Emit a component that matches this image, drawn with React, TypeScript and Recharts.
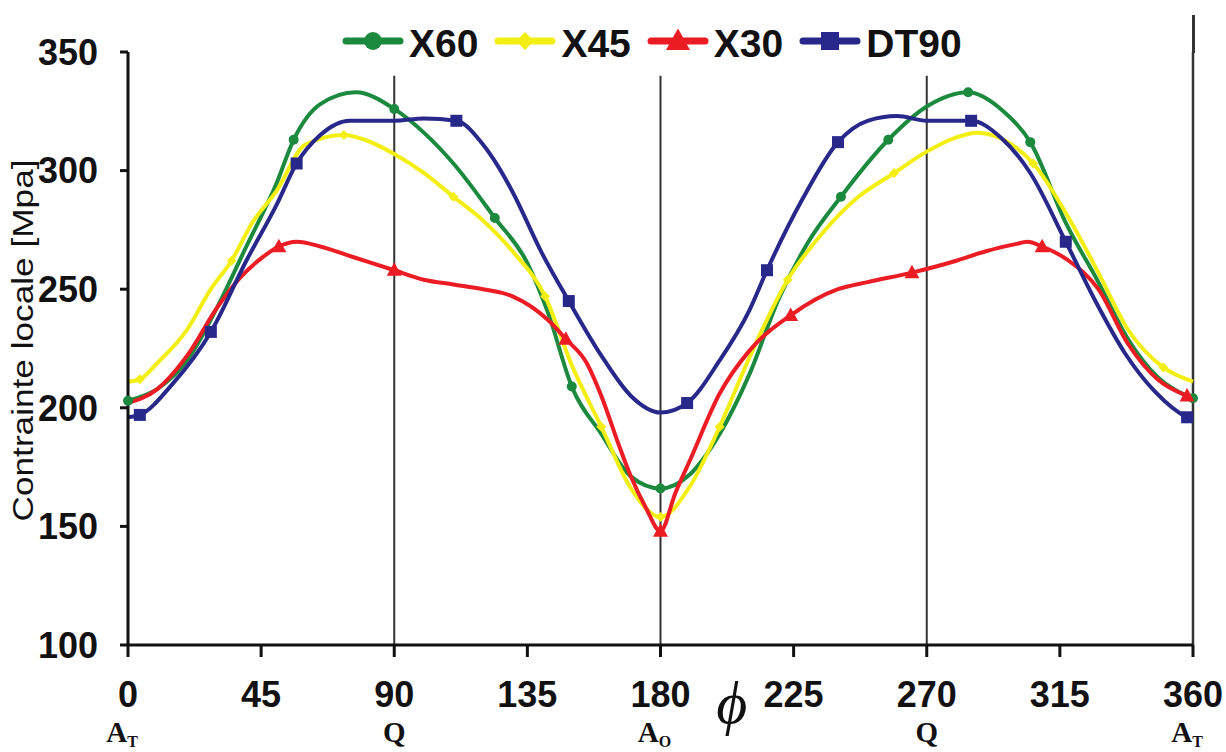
import React from "react";
import { LineChart, Line, XAxis, YAxis, ReferenceLine, Legend } from "recharts";

// angle phi (deg) around the joint and local stress (MPa)
const PHI_TICKS = [0, 45, 90, 135, 180, 225, 270, 315, 360];
const STRESS_TICKS = [100, 150, 200, 250, 300, 350];
const GUIDE_ANGLES = [90, 180, 270];
const POSITION_LABELS: Record<number, [string, string]> = {
  0: ["A", "T"],
  90: ["Q", ""],
  180: ["A", "O"],
  270: ["Q", ""],
  360: ["A", "T"],
};

const X60_VALUES: [number, number][] = [
  [0, 203], [10, 208], [20, 220], [30, 242], [40, 268], [50, 294], [56, 313],
  [65, 328], [77, 333], [90, 326], [100, 316], [110, 303], [124, 280], [135, 261],
  [142, 240], [150, 209], [160, 189], [170, 171], [180, 166], [190, 172], [200, 189],
  [210, 214], [220, 246], [230, 270], [241, 289], [257, 313], [270, 327], [284, 333],
  [295, 326], [305, 312], [317, 278], [328, 253], [338, 229], [348, 213], [360, 204],
];
const X60_MARKERS = [0, 56, 90, 124, 150, 180, 241, 257, 284, 305, 360];

const X45_VALUES: [number, number][] = [
  [0, 211], [4, 212], [10, 219], [20, 233], [28, 250], [35, 262], [42, 278],
  [50, 291], [60, 311], [73, 315], [80, 313], [90, 307], [100, 299], [110, 289],
  [120, 279], [130, 266], [141, 247], [150, 218], [160, 192], [170, 166], [180, 154],
  [190, 167], [200, 192], [210, 221], [223, 254], [235, 274], [246, 288], [259, 299],
  [270, 308], [280, 314], [287, 316], [296, 313], [306, 303], [318, 280], [328, 257],
  [338, 233], [350, 217], [360, 211],
];
const X45_MARKERS = [4, 35, 73, 110, 141, 160, 180, 200, 223, 259, 306, 350];

const X30_VALUES: [number, number][] = [
  [0, 202], [10, 208], [20, 222], [30, 242], [38, 255], [45, 263], [51, 268],
  [57, 270], [65, 268], [75, 264], [90, 258], [100, 254], [110, 252], [120, 250],
  [130, 247], [142, 237], [148, 229], [155, 219], [160, 205], [166, 184], [170, 171],
  [175, 158], [180, 148], [185, 164], [190, 178], [200, 206], [210, 224], [224, 239],
  [240, 250], [250, 253], [265, 257], [280, 262], [290, 266], [300, 269], [304, 270],
  [309, 268], [318, 262], [328, 250], [338, 227], [348, 212], [358, 205], [360, 204],
];
const X30_MARKERS = [51, 90, 148, 180, 224, 265, 309, 358];

const DT90_VALUES: [number, number][] = [
  [0, 196], [4, 197], [15, 210], [28, 232], [40, 262], [50, 285], [57, 303],
  [65, 315], [75, 321], [90, 321], [100, 322], [111, 321], [120, 311], [125, 302],
  [130, 291], [140, 265], [149, 245], [160, 222], [170, 205], [180, 198], [189, 202],
  [200, 220], [210, 241], [216, 258], [228, 288], [240, 312], [250, 321], [260, 323],
  [270, 321], [285, 321], [295, 314], [305, 299], [317, 270], [327, 245], [337, 223],
  [347, 207], [358, 196], [360, 195],
];
const DT90_MARKERS = [4, 28, 57, 111, 149, 189, 216, 240, 285, 317, 358];

const FONT = "'Liberation Sans', Arial, sans-serif";
const SERIF = "'Liberation Serif', 'Times New Roman', serif";

type Shape = "circle" | "diamond" | "triangle" | "square";

const toPoints = (rows: [number, number][]) => rows.map(([phi, v]) => ({ phi, v }));

const SERIES = [
  { name: "X60", color: "#1b8a3e", shape: "circle" as Shape, data: toPoints(X60_VALUES), markers: X60_MARKERS, size: 10 },
  { name: "X45", color: "#f3ee14", shape: "diamond" as Shape, data: toPoints(X45_VALUES), markers: X45_MARKERS, size: 10 },
  { name: "X30", color: "#ec1c24", shape: "triangle" as Shape, data: toPoints(X30_VALUES), markers: X30_MARKERS, size: 15 },
  { name: "DT90", color: "#27288a", shape: "square" as Shape, data: toPoints(DT90_VALUES), markers: DT90_MARKERS, size: 12 },
];

function Marker({ shape, cx, cy, size, color }: { shape: Shape; cx: number; cy: number; size: number; color: string }) {
  const h = size / 2;
  if (shape === "circle") return <circle cx={cx} cy={cy} r={h} fill={color} />;
  if (shape === "diamond")
    return <polygon points={`${cx},${cy - h} ${cx + h},${cy} ${cx},${cy + h} ${cx - h},${cy}`} fill={color} />;
  if (shape === "triangle")
    return <polygon points={`${cx},${cy - h * 1.05} ${cx + h},${cy + h * 0.75} ${cx - h},${cy + h * 0.75}`} fill={color} />;
  return <rect x={cx - h} y={cy - h} width={size} height={size} fill={color} />;
}

const makeDot = (s: (typeof SERIES)[number]) => (props: any) => {
  const { cx, cy, payload, index } = props;
  if (cx == null || cy == null || !s.markers.includes(payload.phi)) {
    return <g key={`${s.name}-${index}`} />;
  }
  return (
    <g key={`${s.name}-${index}`}>
      <Marker shape={s.shape} cx={cx} cy={cy} size={s.size} color={s.color} />
    </g>
  );
};

const PhiTick = (props: any) => {
  const { x, y, payload } = props;
  const pos = POSITION_LABELS[payload.value];
  return (
    <g>
      <text x={x} y={y + 50} textAnchor="middle" fontFamily={FONT} fontWeight="bold" fontSize={36} fill="#111">
        {payload.value}
      </text>
      {pos && (
        <text x={x - (pos[1] ? 6 : 0)} y={y + 85} textAnchor="middle" fontFamily={SERIF} fontWeight="bold" fontSize={29} fill="#111">
          {pos[0]}
          {pos[1] && (
            <tspan dy={5} fontSize={16}>
              {pos[1]}
            </tspan>
          )}
        </text>
      )}
    </g>
  );
};

const PhiLabel = (props: any) => {
  const { viewBox } = props;
  const x = viewBox.x + viewBox.width * 0.567;
  return (
    <text x={x} y={viewBox.y + 78} textAnchor="middle" fontFamily={SERIF} fontStyle="italic" fontSize={60} fill="#111">
      {"\u03D5"}
    </text>
  );
};

const StressLabel = (props: any) => {
  const { viewBox } = props;
  const x = viewBox.x + 33;
  const y = viewBox.y + viewBox.height / 2 - 8;
  return (
    <text
      x={x}
      y={y}
      transform={`rotate(-90, ${x}, ${y})`}
      textAnchor="middle"
      fontFamily={FONT}
      fontSize={30}
      textLength={362}
      lengthAdjust="spacingAndGlyphs"
      fill="#111"
    >
      Contrainte locale [Mpa]
    </text>
  );
};

const renderLegend = () => (
  <div style={{ display: "flex", alignItems: "center", fontFamily: FONT, fontWeight: "bold", fontSize: 39, color: "#111" }}>
    {SERIES.map((s) => (
      <div key={s.name} style={{ display: "flex", alignItems: "center", marginRight: 16 }}>
        <svg width={62} height={30} style={{ display: "block" }}>
          <line x1={4} y1={12} x2={58} y2={12} stroke={s.color} strokeWidth={7} strokeLinecap="round" />
          <Marker shape={s.shape} cx={31} cy={12} size={s.shape === "triangle" ? 24 : 18} color={s.color} />
        </svg>
        <span style={{ marginLeft: 5, lineHeight: "40px" }}>{s.name}</span>
      </div>
    ))}
  </div>
);

export default function App() {
  return (
    <div style={{ position: "absolute", left: 0, top: 0, width: 1226, height: 752, background: "#fff", overflow: "hidden" }}>
      <LineChart width={1226} height={752} margin={{ top: 52, right: 33, bottom: 0, left: 0 }}>
        <XAxis
          type="number"
          dataKey="phi"
          domain={[0, 360]}
          ticks={PHI_TICKS}
          interval={0}
          tick={<PhiTick />}
          tickSize={12}
          tickMargin={0}
          height={107}
          axisLine={{ stroke: "#111", strokeWidth: 3 }}
          tickLine={{ stroke: "#111", strokeWidth: 3 }}
          label={<PhiLabel />}
        />
        <YAxis
          type="number"
          domain={[100, 350]}
          ticks={STRESS_TICKS}
          interval={0}
          width={128}
          tickSize={8}
          tickMargin={22}
          tick={{ fill: "#111", fontSize: 36, fontWeight: "bold", fontFamily: FONT }}
          axisLine={{ stroke: "#111", strokeWidth: 3 }}
          tickLine={{ stroke: "#111", strokeWidth: 3 }}
          label={<StressLabel />}
        />
        {GUIDE_ANGLES.map((a) => (
          <ReferenceLine
            key={a}
            segment={[{ x: a, y: 100 }, { x: a, y: 340 }]}
            stroke="#333"
            strokeWidth={2}
          />
        ))}
        <ReferenceLine x={360} stroke="#333" strokeWidth={2.5} />
        {SERIES.map((s) => (
          <Line
            key={s.name}
            data={s.data}
            dataKey="v"
            name={s.name}
            type="monotone"
            stroke={s.color}
            strokeWidth={4}
            dot={makeDot(s)}
            activeDot={false}
            isAnimationActive={false}
          />
        ))}
        <Legend
          layout="horizontal"
          verticalAlign="middle"
          align="center"
          content={renderLegend}
          wrapperStyle={{ top: 24, left: 342, width: 760 }}
        />
      </LineChart>
      <div style={{ position: "absolute", left: 1192, top: 15, width: 2.5, height: 38, background: "#333" }} />
    </div>
  );
}
